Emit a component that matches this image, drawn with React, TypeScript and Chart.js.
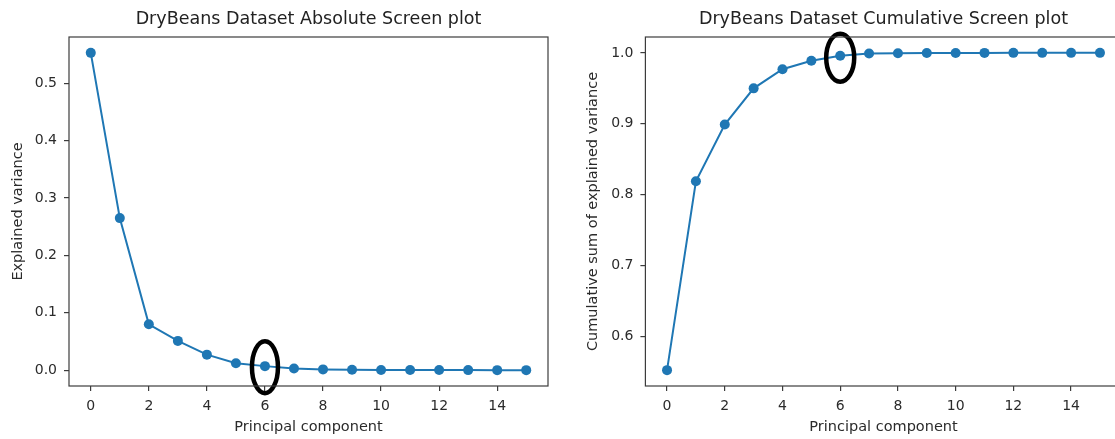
import React, { useEffect, useRef } from "react";
import { Chart, registerables } from "chart.js";

Chart.register(...registerables);

// ---- data ----
const components = [0, 1, 2, 3, 4, 5, 6, 7, 8, 9, 10, 11, 12, 13, 14, 15];
const explainedVariance = [
  0.553, 0.265, 0.08, 0.051, 0.027, 0.012, 0.007, 0.003, 0.0013, 0.0006, 0.0003,
  0.0002, 0.0001, 0.00005, 0.00002, 0.00001,
];
const cumulativeVariance = [
  0.553, 0.819, 0.899, 0.95, 0.977, 0.989, 0.996, 0.999, 0.9995, 0.9998, 0.9999,
  0.99995, 1.0, 1.0, 1.0, 1.0,
];
const xTickValues = [0, 2, 4, 6, 8, 10, 12, 14];
const leftYTicks = [0.0, 0.1, 0.2, 0.3, 0.4, 0.5];
const rightYTicks = [0.6, 0.7, 0.8, 0.9, 1.0];
const highlightIndex = 6;

const leftTitle = "DryBeans Dataset Absolute Screen plot";
const rightTitle = "DryBeans Dataset Cumulative Screen plot";
const xTitle = "Principal component";
const leftYTitle = "Explained variance";
const rightYTitle = "Cumulative sum of explained variance";

const FONT = "'DejaVu Sans', 'Liberation Sans', sans-serif";
const BLUE = "#1f77b4";
const INK = "#2b2b2b";

const framePlugin = {
  id: "frame",
  afterDraw(chart: any) {
    const { ctx, chartArea } = chart;
    const { left, top, right, bottom } = chartArea;
    ctx.save();
    ctx.strokeStyle = "#3c3c3c";
    ctx.lineWidth = 1.2;
    ctx.strokeRect(left, top, right - left, bottom - top);
    ctx.restore();
  },
};

const ellipsePlugin = {
  id: "ellipseMark",
  afterDatasetsDraw(chart: any, _args: any, opts: any) {
    if (!opts || opts.index == null) return;
    const meta = chart.getDatasetMeta(0);
    const pt = meta.data[opts.index];
    if (!pt) return;
    const { ctx } = chart;
    ctx.save();
    ctx.beginPath();
    ctx.ellipse(pt.x + (opts.dx || 0), pt.y + (opts.dy || 0), opts.rx, opts.ry, 0, 0, Math.PI * 2);
    ctx.lineWidth = opts.lineWidth || 4.5;
    ctx.strokeStyle = "#000";
    ctx.stroke();
    ctx.restore();
  },
};

function paddedRange(values: number[]) {
  const mn = Math.min(...values);
  const mx = Math.max(...values);
  const m = (mx - mn) * 0.05;
  return { min: mn - m, max: mx + m };
}

type PanelProps = {
  values: number[];
  title: string;
  yTitle: string;
  yTicks: number[];
  yAxisWidth: number;
  yTitlePad: number;
  rightPad: number;
  width: number;
  height: number;
  ellipse: { rx: number; ry: number; dx: number; dy: number };
};

function Panel(p: PanelProps) {
  const ref = useRef<HTMLCanvasElement | null>(null);
  useEffect(() => {
    if (!ref.current) return;
    const yr = paddedRange(p.values);
    const chart = new Chart(ref.current, {
      type: "line",
      data: {
        datasets: [
          {
            data: components.map((c, i) => ({ x: c, y: p.values[i] })),
            borderColor: BLUE,
            backgroundColor: BLUE,
            borderWidth: 2,
            pointRadius: 5,
            pointHoverRadius: 5,
            pointBackgroundColor: BLUE,
            pointBorderColor: BLUE,
            pointBorderWidth: 0,
            tension: 0,
          },
        ],
      },
      options: {
        responsive: false,
        animation: false,
        devicePixelRatio: 1,
        layout: { padding: { left: 0, right: p.rightPad, top: 0, bottom: 0 } },
        plugins: {
          legend: { display: false },
          tooltip: { enabled: false },
          title: {
            display: true,
            text: p.title,
            fullSize: false,
            color: "#222",
            font: { family: FONT, size: 17.5, weight: "normal" },
            padding: { top: 9, bottom: 7 },
          },
          ellipseMark: { index: highlightIndex, ...p.ellipse, lineWidth: 4.5 },
        } as any,
        scales: {
          x: {
            type: "linear",
            min: -0.75,
            max: 15.75,
            afterBuildTicks: (scale: any) => {
              scale.ticks = xTickValues.map((v) => ({ value: v }));
            },
            afterFit: (scale: any) => {
              scale.height = 53;
            },
            ticks: {
              color: INK,
              font: { family: FONT, size: 14 },
              padding: 7,
              maxRotation: 0,
              autoSkip: false,
              callback: (v: any) => String(v),
            },
            grid: { drawOnChartArea: false, drawTicks: true, tickLength: 5, color: "#3c3c3c", lineWidth: 1.2 },
            border: { display: false },
            title: {
              display: true,
              text: xTitle,
              color: INK,
              font: { family: FONT, size: 14.5 },
              padding: { top: 0, bottom: 3 },
            },
          },
          y: {
            type: "linear",
            min: yr.min,
            max: yr.max,
            afterBuildTicks: (scale: any) => {
              scale.ticks = p.yTicks.map((v) => ({ value: v }));
            },
            afterFit: (scale: any) => {
              scale.width = p.yAxisWidth;
            },
            ticks: {
              color: INK,
              font: { family: FONT, size: 14 },
              padding: 7,
              autoSkip: false,
              callback: (v: any) => Number(v).toFixed(1),
            },
            grid: { drawOnChartArea: false, drawTicks: true, tickLength: 5, color: "#3c3c3c", lineWidth: 1.2 },
            border: { display: false },
            title: {
              display: true,
              text: p.yTitle,
              color: INK,
              font: { family: FONT, size: 14.5 },
              padding: { top: p.yTitlePad, bottom: 0 },
            },
          },
        },
      },
      plugins: [framePlugin, ellipsePlugin],
    });
    return () => chart.destroy();
  }, []);
  return <canvas ref={ref} width={p.width} height={p.height} style={{ display: "block" }} />;
}

export default function App() {
  return (
    <div
      style={{
        position: "fixed",
        left: 0,
        top: 0,
        width: 1115,
        height: 439,
        overflow: "hidden",
        background: "#fff",
      }}
    >
      <div style={{ position: "absolute", left: 0, top: 0 }}>
        <Panel
          values={explainedVariance}
          title={leftTitle}
          yTitle={leftYTitle}
          yTicks={leftYTicks}
          yAxisWidth={69}
          yTitlePad={9.3}
          rightPad={8}
          width={556}
          height={439}
          ellipse={{ rx: 13, ry: 26, dx: 0, dy: 1 }}
        />
      </div>
      <div style={{ position: "absolute", left: 556, top: 0 }}>
        <Panel
          values={cumulativeVariance}
          title={rightTitle}
          yTitle={rightYTitle}
          yTicks={rightYTicks}
          yAxisWidth={89.4}
          yTitlePad={28.3}
          rightPad={14.4}
          width={580}
          height={439}
          ellipse={{ rx: 14, ry: 24, dx: 0, dy: 2 }}
        />
      </div>
    </div>
  );
}
